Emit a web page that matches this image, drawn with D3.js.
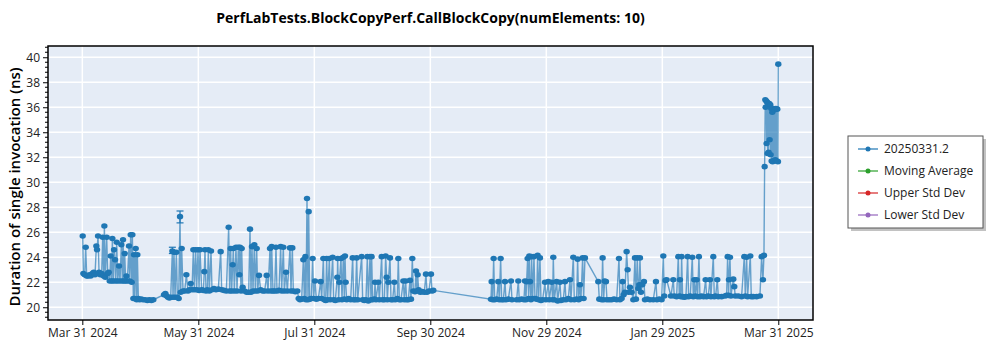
<!DOCTYPE html>
<html>
<head>
<meta charset="utf-8">
<script src="https://cdn.jsdelivr.net/npm/d3@7"></script>
<style>
  html, body { margin: 0; padding: 0; background: #ffffff; }
  svg { display: block; font-family: "Open Sans", "Noto Sans", sans-serif; }
</style>
</head>
<body>
<svg id="chart" width="1000" height="350"></svg>
<script>
// ---------------- DATA ----------------
const chartTitle = "PerfLabTests.BlockCopyPerf.CallBlockCopy(numElements: 10)";
const yAxisTitle = "Duration of single invocation (ns)";
const baseDate = "2024-03-31";
const seriesNames = ["20250331.2", "Moving Average", "Upper Std Dev", "Lower Std Dev"];
const seriesColors = ["#1f77b4", "#2ca02c", "#d62728", "#9467bd"];
const xTickLabels = ["Mar 31 2024", "May 31 2024", "Jul 31 2024", "Sep 30 2024", "Nov 29 2024", "Jan 29 2025", "Mar 31 2025"];
const yTickValues = [20, 22, 24, 26, 28, 30, 32, 34, 36, 38, 40];

// days after baseDate
const dayOffsets = [
  0.2,0.55,1.24,1.77,2.29,2.99,3.69,4.39,5.27,5.97,6.66,7.36,7.71,8.24,8.76,9.46,10.16,10.68,11.21,11.56,
  12.08,12.78,13.31,13.83,14.36,14.88,15.4,15.75,16.28,16.63,17.15,17.5,18.03,18.55,19.25,19.77,20.47,21.0,21.35,21.87,
  22.22,22.75,23.1,23.62,24.49,24.84,25.37,25.89,26.24,26.77,27.12,27.47,27.99,28.51,28.86,29.39,30.09,30.96,31.84,32.88,
  34.11,35.16,36.21,37.25,42.85,43.55,44.25,44.95,45.64,46.34,47.22,47.57,48.09,48.62,49.32,49.84,50.54,51.24,51.59,52.11,
  52.81,53.69,54.56,55.43,56.13,56.83,57.53,58.23,58.75,59.45,59.98,60.68,61.2,
  61.72,62.59,63.47,63.99,64.34,64.87,65.57,66.09,66.61,67.49,68.01,69.06,70.11,71.33,72.56,73.08,74.31,75.53,76.75,77.28,
  77.8,78.33,78.85,79.2,79.72,80.6,81.12,81.82,82.35,82.7,83.22,83.57,84.09,84.97,86.19,87.24,87.94,88.46,88.99,89.51,
  90.21,90.74,91.44,91.96,92.66,93.53,94.58,95.63,96.68,97.38,98.43,98.95,99.3,100.0,100.87,101.57,102.1,103.15,104.02,104.55,
  105.42,105.94,106.82,107.52,108.92,109.44,110.14,110.66,111.71,112.76,113.46,114.16,115.03,115.91,116.43,116.96,117.31,117.83,118.36,118.71,
  119.23,120.1,120.8,121.33,122.03,122.73,123.77,125.0,125.52,126.4,126.92,127.62,128.14,128.67,129.54,130.07,131.29,131.81,132.69,133.74,
  133.91,134.44,134.79,135.66,136.18,136.88,137.41,137.76,138.11,138.63,139.68,140.73,141.78,142.3,143.17,143.88,144.4,
  146.5,147.02,147.89,148.77,149.47,149.99,150.87,151.39,151.74,152.26,153.14,153.49,154.01,155.24,155.76,156.98,157.51,158.38,159.08,159.61,
  159.96,160.48,161.35,161.88,162.75,163.63,164.15,165.2,165.72,166.25,167.12,168.35,168.87,169.57,170.09,170.97,171.84,172.37,173.07,173.59,
  174.46,174.99,175.51,175.86,176.39,177.26,178.31,179.36,180.23,180.76,181.81,182.85,183.38,184.08,
  214.32,214.67,215.19,215.72,216.24,217.29,218.16,218.69,219.39,219.91,220.79,221.66,222.18,223.41,224.81,225.33,
  227.78,228.65,229.17,230.4,231.62,232.15,232.67,233.02,233.54,234.07,234.42,234.77,235.29,235.64,236.17,236.87,237.39,238.26,238.79,239.31,
  240.01,240.54,241.41,242.63,243.16,244.38,244.91,246.13,246.65,247.0,247.53,248.75,249.28,250.5,251.02,252.25,253.12,253.64,254.87,255.74,
  256.27,257.49,258.02,259.24,259.76,260.29,260.99,261.51,262.39,262.91,263.61,270.6,271.13,272.35,272.87,273.4,273.92,274.62,275.15,276.37,
  277.59,278.82,280.22,281.44,281.96,282.84,283.36,283.89,284.59,285.46,285.98,286.51,287.21,288.08,288.96,289.83,290.35,291.05,291.58,292.1,
  292.45,292.98,293.68,294.55,295.07,296.3,297.7,299.44,300.84,301.37,302.59,303.81,304.69,305.21,305.91,306.44,
  308.71,309.93,310.45,311.68,312.55,313.08,313.43,313.95,314.3,314.82,315.7,316.57,317.45,317.97,318.84,319.89,320.42,320.94,321.47,322.17,
  322.69,323.39,323.91,324.79,325.84,326.89,327.41,328.28,329.16,329.68,330.91,331.43,332.13,333.0,333.53,335.28,337.02,337.9,338.42,338.95,
  339.12,339.65,340.17,341.39,341.92,342.44,344.02,345.76,347.16,347.69,348.39,348.91,350.31,350.83,351.88,353.63,355.38,356.25,356.95,357.48,
  357.83,358.17,358.35,358.7,358.87,359.22,359.4,359.75,359.92,360.27,360.45,360.8,360.97,361.32,361.5,361.85,362.02,362.37,362.72,363.07,
  363.42,363.77,364.12,364.47,364.82,365.0
];

// duration (ns)
const durations = [
  25.7,22.7,22.6,24.8,22.5,22.5,22.6,22.5,22.7,22.8,22.6,24.9,24.6,25.7,22.8,22.6,22.7,25.6,22.5,26.5,
  22.4,25.6,22.7,22.8,22.1,24.1,22.1,25.5,22.1,24.6,23.8,22.1,25.2,22.1,23.3,22.1,25.0,22.1,25.4,22.1,
  24.3,22.1,22.5,22.1,24.9,22.1,25.8,22.0,25.8,20.7,24.2,20.7,24.7,20.6,24.2,20.7,20.6,20.65,20.6,20.6,
  20.55,20.6,20.55,20.6,21.0,21.1,20.9,20.8,20.75,20.8,24.5,20.8,24.4,20.8,24.4,20.8,20.7,27.25,21.2,24.7,
  21.3,21.3,22.6,21.3,21.4,21.9,21.4,24.6,21.4,24.6,21.4,24.6,21.35,
  24.6,21.4,21.35,22.85,24.6,21.3,21.4,24.6,21.3,24.5,21.4,21.5,21.4,21.45,24.45,21.4,21.35,21.3,26.4,21.3,
  24.7,21.3,23.4,24.7,21.3,24.8,21.3,24.8,22.6,24.8,21.3,24.7,21.6,21.3,21.2,21.2,26.25,21.2,24.85,21.3,
  25.0,21.3,24.7,21.3,22.55,21.4,21.3,21.3,22.55,21.3,24.7,21.3,24.85,21.3,21.3,24.8,21.3,21.35,24.85,21.3,
  24.8,21.3,22.8,21.3,24.75,21.3,24.75,21.3,21.25,21.3,20.7,20.6,20.65,23.8,20.7,24.05,20.6,28.7,20.6,27.65,
  20.65,20.7,23.9,20.7,22.1,20.65,20.7,22.05,20.7,23.9,20.6,20.55,23.9,20.6,23.9,20.6,24.0,20.6,20.55,22.4,
  23.9,20.6,22.0,23.9,20.6,24.0,20.65,24.1,22.0,20.6,20.7,20.6,23.95,20.6,20.6,23.95,20.6,
  24.05,20.6,20.55,20.6,24.05,20.5,24.05,20.6,24.05,20.6,20.65,22.0,20.6,22.0,20.6,24.05,20.6,20.6,24.1,22.4,
  20.6,22.0,23.95,20.6,20.6,22.0,20.6,20.7,23.9,20.6,20.6,22.1,20.6,22.1,20.6,20.6,22.15,20.65,23.9,21.3,
  21.25,22.9,21.3,22.6,21.4,21.2,21.25,21.2,22.65,21.2,21.3,22.65,21.3,21.35,
  20.64,22.05,20.6,23.9,20.6,20.65,22.05,20.6,23.9,20.6,20.6,22.05,20.6,20.65,22.1,20.6,
  20.6,22.1,20.6,20.65,20.6,22.1,20.6,22.05,23.9,20.7,24.1,22.05,20.6,24.05,20.7,24.05,20.7,20.65,24.15,20.6,
  23.95,20.55,20.6,22.0,20.6,22.05,20.6,22.0,20.6,24.0,20.6,22.05,20.5,22.0,20.55,20.6,22.05,20.6,20.7,22.2,
  20.6,24.0,20.6,20.65,23.85,20.6,21.8,20.7,23.95,20.7,23.95,22.05,20.65,20.6,23.95,20.6,22.1,22.05,20.6,20.6,
  20.6,20.65,20.6,23.9,20.6,20.7,22.05,21.0,21.2,24.45,23.0,21.2,21.6,21.2,20.6,23.95,20.65,23.95,21.5,21.8,
  23.95,21.2,21.8,22.05,20.6,20.65,20.6,20.6,22.05,20.6,20.65,20.6,24.1,20.9,22.15,22.2,
  20.9,22.2,20.9,20.85,24.05,20.9,22.2,20.85,24.05,20.85,20.8,20.85,24.05,20.85,20.9,24.0,20.85,22.2,20.9,22.2,
  20.85,24.05,20.85,20.9,20.85,22.2,20.85,20.9,22.2,20.85,24.05,20.85,20.9,22.2,20.85,20.85,20.9,20.95,24.05,20.95,
  22.2,24.0,20.9,22.25,21.65,20.9,20.9,20.85,24.05,20.9,24.0,20.85,24.1,20.85,20.85,20.85,20.9,24.05,22.2,24.15,
  31.25,36.6,36.0,36.5,33.1,36.4,32.3,36.3,32.4,36.3,33.4,36.2,32.2,35.9,31.7,35.6,31.65,35.9,31.7,35.8,
  31.8,35.9,31.7,35.85,31.65,39.45
];

// error bars: [day offset, low, high]
const errorDays = [47.22, 51.24];
const errorLows = [24.3, 26.75];
const errorHighs = [24.8, 27.7];

// ---------------- CHART ----------------
const svg = d3.select("#chart");
const W = 1000, H = 350;
const margin = { left: 48, right: 187, top: 46, bottom: 30 };
const pw = W - margin.left - margin.right;   // 765
const ph = H - margin.top - margin.bottom;   // 274

const parse = d3.utcParse("%Y-%m-%d");
const t0 = parse(baseDate);
const dayMs = 86400000;
const toDate = d => new Date(t0.getTime() + d * dayMs);

const data = dayOffsets.map((d, i) => ({ date: toDate(d), value: durations[i] }));

const x = d3.scaleUtc()
  .domain([toDate(-18), toDate(383.2)])
  .range([margin.left, margin.left + pw]);
const y = d3.scaleLinear()
  .domain([18.98, 40.9])
  .range([margin.top + ph, margin.top]);

const tickEnd = toDate(365);
const xTickDates = xTickLabels.map((_, i) => d3.interpolateDate(t0, tickEnd)(i / (xTickLabels.length - 1)));

// background
svg.append("rect")
  .attr("x", margin.left).attr("y", margin.top)
  .attr("width", pw).attr("height", ph)
  .attr("fill", "#e5ecf6");

// grid
const grid = svg.append("g");
grid.selectAll("line.gy").data(yTickValues).join("line")
  .attr("x1", margin.left).attr("x2", margin.left + pw)
  .attr("y1", d => y(d)).attr("y2", d => y(d))
  .attr("stroke", "#ffffff").attr("stroke-width", 1.5);
grid.selectAll("line.gx").data(xTickDates).join("line")
  .attr("x1", d => x(d)).attr("x2", d => x(d))
  .attr("y1", margin.top).attr("y2", margin.top + ph)
  .attr("stroke", "#ffffff").attr("stroke-width", 1.5);

// clip
svg.append("clipPath").attr("id", "clip")
  .append("rect").attr("x", margin.left).attr("y", margin.top).attr("width", pw).attr("height", ph);

const plot = svg.append("g").attr("clip-path", "url(#clip)");

// line
const line = d3.line().x(d => x(d.date)).y(d => y(d.value));
plot.append("path")
  .datum(data)
  .attr("d", line)
  .attr("fill", "none")
  .attr("stroke", seriesColors[0])
  .attr("stroke-opacity", 0.65)
  .attr("stroke-width", 1.4);

// error bars
const errG = plot.append("g").attr("stroke", seriesColors[0]).attr("stroke-width", 1.2);
errorDays.forEach((d, i) => {
  const cx = x(toDate(d));
  errG.append("line").attr("x1", cx).attr("x2", cx).attr("y1", y(errorLows[i])).attr("y2", y(errorHighs[i]));
  errG.append("line").attr("x1", cx - 3.5).attr("x2", cx + 3.5).attr("y1", y(errorLows[i])).attr("y2", y(errorLows[i]));
  errG.append("line").attr("x1", cx - 3.5).attr("x2", cx + 3.5).attr("y1", y(errorHighs[i])).attr("y2", y(errorHighs[i]));
});

// markers
plot.append("g").selectAll("ellipse").data(data).join("ellipse")
  .attr("cx", d => x(d.date)).attr("cy", d => y(d.value))
  .attr("rx", 3.2).attr("ry", 2.8)
  .attr("fill", seriesColors[0]);

// frame
svg.append("rect")
  .attr("x", margin.left).attr("y", margin.top)
  .attr("width", pw).attr("height", ph)
  .attr("fill", "none").attr("stroke", "#000").attr("stroke-width", 1.5);

// y axis
const yMinor = d3.range(19.2, 40.81, 0.4).filter(v => Math.abs(v / 2 - Math.round(v / 2)) > 0.01);
const yAx = svg.append("g").attr("transform", `translate(${margin.left},0)`);
yAx.call(d3.axisLeft(y).tickValues(yTickValues).tickSize(5).tickPadding(3).tickFormat(d3.format("d")));
yAx.select(".domain").remove();
yAx.selectAll(".tick line").attr("stroke", "#000").attr("stroke-width", 1);
yAx.selectAll(".tick text").attr("font-size", 12).attr("fill", "#222").attr("font-family", "'Open Sans', sans-serif");
yAx.selectAll("line.minor").data(yMinor).join("line").attr("class", "minor")
  .attr("x1", -3).attr("x2", 0)
  .attr("y1", d => y(d)).attr("y2", d => y(d))
  .attr("stroke", "#000").attr("stroke-width", 1);

// x axis
const xAx = svg.append("g").attr("transform", `translate(0,${margin.top + ph})`);
xAx.call(d3.axisBottom(x).tickValues(xTickDates).tickSize(5).tickPadding(3)
  .tickFormat((d, i) => xTickLabels[i]));
xAx.select(".domain").remove();
xAx.selectAll(".tick line").attr("stroke", "#000");
xAx.selectAll(".tick text").attr("font-size", 12).attr("fill", "#222").attr("font-family", "'Open Sans', sans-serif");

// title
svg.append("text")
  .attr("x", margin.left + pw / 2).attr("y", 23)
  .attr("text-anchor", "middle")
  .attr("font-size", 14).attr("font-weight", "bold").attr("fill", "#000")
  .text(chartTitle);

// y title
svg.append("text")
  .attr("transform", `translate(20,${margin.top + ph / 2 + 4}) rotate(-90)`)
  .attr("text-anchor", "middle")
  .attr("font-size", 15).attr("font-weight", 600).attr("fill", "#000")
  .text(yAxisTitle);

// legend
const lg = svg.append("g").attr("transform", "translate(848,136)");
lg.append("rect").attr("x", 3).attr("y", 3).attr("width", 135).attr("height", 92).attr("fill", "#9a9a9a").attr("opacity", 0.6);
lg.append("rect").attr("x", 0).attr("y", 0).attr("width", 135).attr("height", 92)
  .attr("fill", "#ffffff").attr("stroke", "#555").attr("stroke-width", 1);
seriesNames.forEach((name, i) => {
  const ry = 13 + i * 22;
  lg.append("line").attr("x1", 10).attr("x2", 30).attr("y1", ry).attr("y2", ry)
    .attr("stroke", seriesColors[i]).attr("stroke-width", 1.2);
  lg.append("circle").attr("cx", 20).attr("cy", ry).attr("r", 2.5).attr("fill", seriesColors[i]);
  lg.append("text").attr("x", 36).attr("y", ry + 4)
    .attr("font-size", 12).attr("fill", "#222")
    .text(name);
});
</script>
</body>
</html>
